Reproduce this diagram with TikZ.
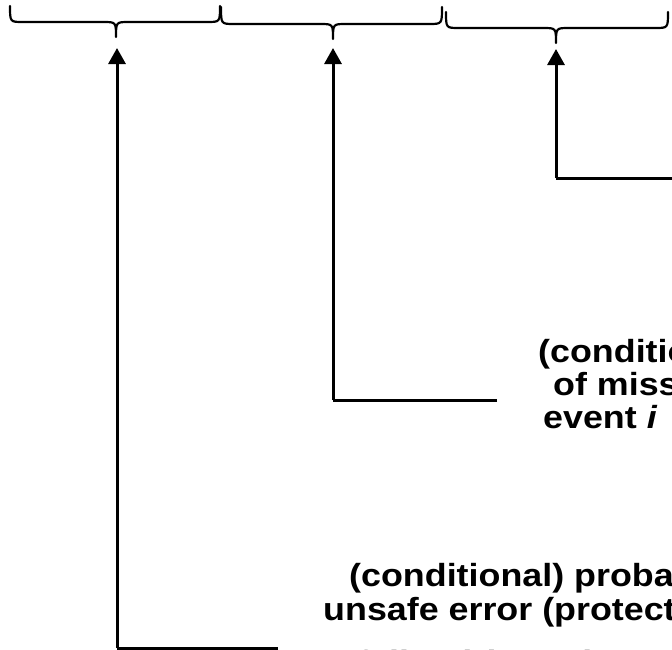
\documentclass[tikz,border=0pt]{standalone}
\usepackage{fontspec}
\setmainfont[FakeStretch=1.12]{Liberation Sans}
\usetikzlibrary{arrows.meta}

\tikzset{
  bracepath/.style={line width=2.2pt, line cap=round, line join=round},
  pointer/.style={line width=3pt, -{Triangle[width=17pt,length=16pt]}},
  leader/.style={line width=3pt},
  caption/.style={anchor=base west, inner sep=0pt, font=\fontsize{32}{34}\selectfont\bfseries},
}

% a horizontal brace: left end, right end, top height, bar height, tip x, tip height
\newcommand{\hbrace}[6]{%
  \draw[bracepath] (#1,#3) .. controls (#1,#4) .. ({#1+13},#4)
    -- ({#5-13},#4) .. controls (#5,#4) .. (#5,#6)
    .. controls (#5,#4) .. ({#5+13},#4)
    -- ({#2-13},#4) .. controls (#2,#4) .. (#2,#3);}

\begin{document}
\begin{tikzpicture}[x=1pt,y=-1pt]
  \useasboundingbox (0,0) rectangle (672,649);
  \clip (0,0) rectangle (672,649);

  % the three braces along the top
  \hbrace{10}{220}{6}{22}{116}{37}
  \hbrace{221}{442}{7}{24}{333}{39}
  \hbrace{446}{668}{12}{28}{556}{43}

  % points the pointers aim at, under each brace tip
  \coordinate (tipA) at (117,48);
  \coordinate (tipB) at (333,48);
  \coordinate (tipC) at (556,49);

  % corners and free ends of the leader lines
  \coordinate (cornerA) at (117,648);
  \coordinate (endA) at (278,648);
  \coordinate (cornerB) at (333,400);
  \coordinate (endB) at (497,400);
  \coordinate (cornerC) at (556,178);
  \coordinate (endC) at (680,178);

  \draw[leader] (endA) -- (cornerA);
  \draw[pointer] (cornerA) -- (tipA);
  \draw[leader] (endB) -- (cornerB);
  \draw[pointer] (cornerB) -- (tipB);
  \draw[leader] (endC) -- (cornerC);
  \draw[pointer] (cornerC) -- (tipC);

  % explanatory text for the middle brace
  \node[caption] (midA) at (538,362) {(conditional) probability};
  \node[caption] (midB) at (553,395) {of missing};
  \node[caption] (midC) at (543,428) {event \textit{i}};

  % explanatory text for the left brace
  \node[caption] (lowA) at (349,586) {(conditional) probability of an};
  \node[caption] (lowB) at (323,620) {unsafe error (protection};
  \node[caption] (lowC) at (357,673) {failure) is undetected};
\end{tikzpicture}
\end{document}
